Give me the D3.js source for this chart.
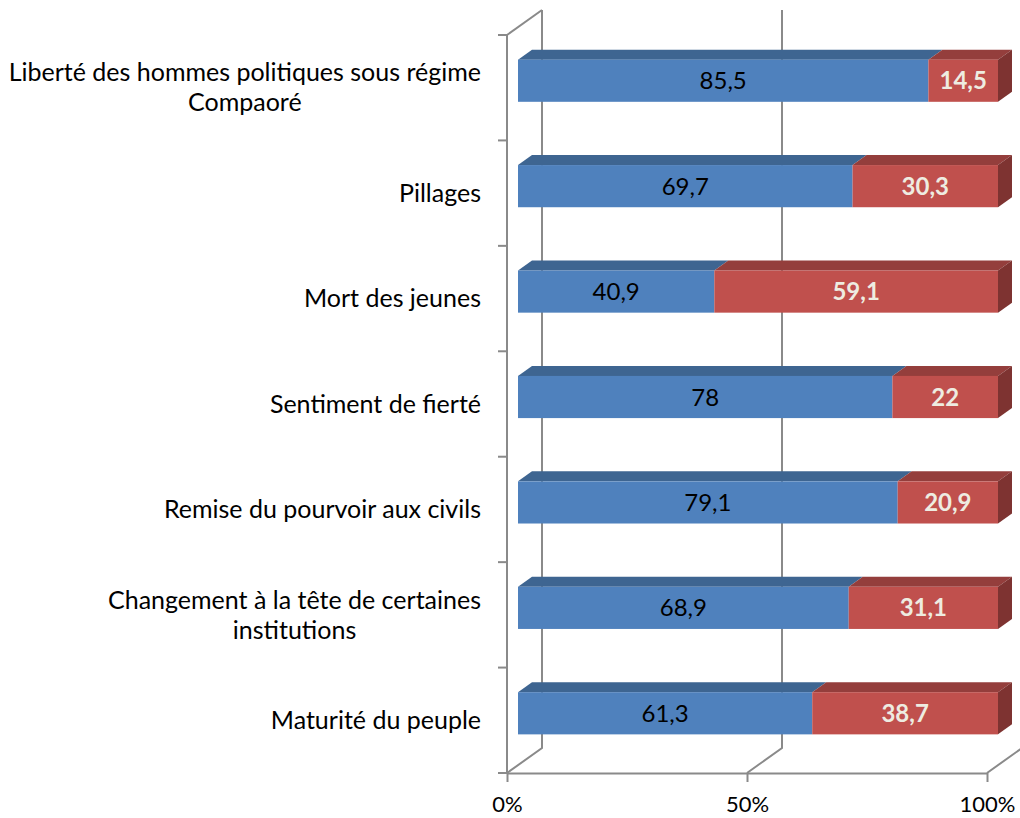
<!DOCTYPE html>
<html><head><meta charset="utf-8">
<script src="https://cdn.jsdelivr.net/npm/d3@7"></script>
<style>
html,body{margin:0;padding:0;background:#fff;}
svg{display:block;font-family:Lato,"Open Sans",sans-serif;}
</style></head>
<body>
<svg id="chart" width="1020" height="818"></svg>
<script>
const categories = [
  "Liberté des hommes politiques sous régime\nCompaoré",
  "Pillages",
  "Mort des jeunes",
  "Sentiment de fierté",
  "Remise du pourvoir aux civils",
  "Changement à la tête de certaines\ninstitutions",
  "Maturité du peuple"
];
const seriesBlue = [85.5, 69.7, 40.9, 78, 79.1, 68.9, 61.3];
const seriesRed  = [14.5, 30.3, 59.1, 22, 20.9, 31.1, 38.7];
const blueLabels = ["85,5", "69,7", "40,9", "78", "79,1", "68,9", "61,3"];
const redLabels  = ["14,5", "30,3", "59,1", "22", "20,9", "31,1", "38,7"];
const xTicks = [0, 50, 100];

(function () {
const svg = d3.select("#chart");
const grid = "#8a8a8a";
const D = [35, -25];          // wall depth vector
const F = [11, -8];           // bar front-face offset from front plane
const B = [14, -10];          // bar depth
const catFont = 25, numFont = 24, tickFont = 22;

const x = d3.scaleLinear().domain([0, 100]).range([507, 987]);
const y = d3.scaleBand().domain(categories).range([35, 773]).paddingInner(0.6).paddingOuter(0.3);
const yTopEdge = 35, yBottom = 773;

const g = svg.append("g").attr("stroke", grid).attr("stroke-width", 2).attr("fill", "none");
xTicks.forEach(t => {
  g.append("path").attr("d",
    `M${x(t)},${yBottom} L${x(t)+D[0]},${yBottom+D[1]} L${x(t)+D[0]},${yTopEdge+D[1]}`);
});
g.append("path").attr("d", `M${x(0)},${yTopEdge} L${x(0)+D[0]},${yTopEdge+D[1]}`);
g.append("line").attr("x1", x(0)).attr("x2", x(0)).attr("y1", yTopEdge).attr("y2", yBottom);
const bounds = d3.range(categories.length + 1).map(i => yTopEdge + i * (yBottom - yTopEdge) / categories.length);
g.selectAll(".lt").data(bounds).enter().append("line")
  .attr("x1", x(0) - 9).attr("x2", x(0)).attr("y1", d => d).attr("y2", d => d);

const ax = svg.append("g").attr("transform", `translate(0,${yBottom})`)
  .call(d3.axisBottom(x).tickValues(xTicks).tickFormat(d => d + "%").tickSize(9).tickSizeOuter(0).tickPadding(14));
ax.select(".domain").attr("stroke", grid).attr("stroke-width", 2);
ax.selectAll(".tick line").attr("stroke", grid).attr("stroke-width", 2);
ax.selectAll(".tick text").attr("font-size", tickFont).attr("fill", "#000").attr("font-family", "Lato,'Open Sans',sans-serif");

categories.forEach(c => {
  const lines = c.split("\n");
  const cy = y(c) + y.bandwidth() / 2;
  const lh = 30;
  const t = svg.append("text").attr("font-size", catFont).attr("fill", "#000");
  const spans = lines.map((ln, i) =>
    t.append("tspan").attr("y", cy + (i - (lines.length - 1) / 2) * lh).attr("dy", "0.35em").text(ln));
  const w = d3.max(spans.map(s => s.node().getComputedTextLength()));
  const cx = 481 - w / 2;
  spans.forEach(s => s.attr("x", cx).attr("text-anchor", "middle"));
});

const colors = {
  blue: {front: "#4F81BD", top: "#3E6591", side: "#34557C"},
  red:  {front: "#C0504D", top: "#943E3C", side: "#7E3331"}
};
function drawSeg(x0, x1, yt, h, col, withSide) {
  const gx = svg.append("g");
  gx.append("path").attr("fill", col.top).attr("d",
    `M${x0},${yt} L${x0+B[0]},${yt+B[1]} L${x1+B[0]},${yt+B[1]} L${x1},${yt} Z`);
  if (withSide) {
    gx.append("path").attr("fill", col.side).attr("d",
      `M${x1},${yt} L${x1+B[0]},${yt+B[1]} L${x1+B[0]},${yt+h+B[1]} L${x1},${yt+h} Z`);
  }
  gx.append("rect").attr("x", x0).attr("y", yt).attr("width", x1 - x0).attr("height", h).attr("fill", col.front);
}
categories.forEach((c, i) => {
  const yt = y(c) + F[1] + 1;
  const h = y.bandwidth();
  const xb0 = x(0) + F[0], xb1 = x(seriesBlue[i]) + F[0];
  const xr1 = x(seriesBlue[i] + seriesRed[i]) + F[0];
  drawSeg(xb0, xb1, yt, h, colors.blue, false);
  drawSeg(xb1, xr1, yt, h, colors.red, true);
  svg.append("text").attr("x", (xb0 + xb1) / 2).attr("y", yt + h / 2).attr("dy", "0.36em")
    .attr("text-anchor", "middle").attr("font-size", numFont).attr("fill", "#000").text(blueLabels[i]);
  svg.append("text").attr("x", (xb1 + xr1) / 2).attr("y", yt + h / 2).attr("dy", "0.36em")
    .attr("text-anchor", "middle").attr("font-size", numFont).attr("font-weight", "bold").attr("fill", "#EEECE1").text(redLabels[i]);
});
})();
</script>
</body></html>
